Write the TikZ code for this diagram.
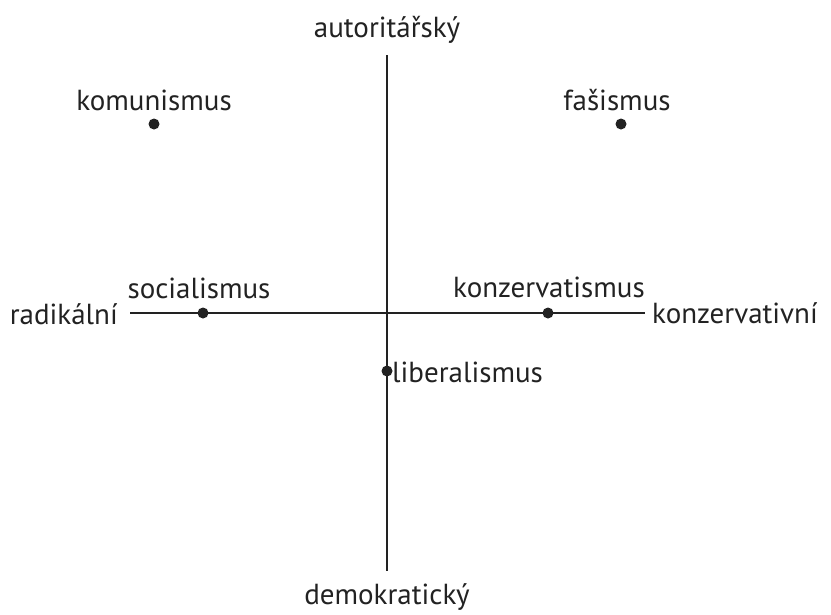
\documentclass[tikz,border=0pt]{standalone}
\usepackage{fontspec}
\setmainfont{PT Sans}
\definecolor{ink}{HTML}{222222}
\begin{document}
\begin{tikzpicture}[x=1pt,y=-1pt,
  lbl/.style={inner sep=0pt,text=ink,font=\fontsize{29}{34}\selectfont},
  axis/.style={draw=ink,line width=2.2pt},
  dot/.style={circle,fill=ink,inner sep=0pt,minimum size=11pt}]
\useasboundingbox (0,0) rectangle (831,614);
\coordinate (top) at (387,55);
\coordinate (bot) at (387,571);
\coordinate (left) at (130,313);
\coordinate (right) at (645,313);
\draw[axis] (top) -- (bot);
\draw[axis] (left) -- (right);
\node[lbl,anchor=base] (aut) at (387,37) {autoritářský};
\node[lbl,anchor=base] (dem) at (387,604) {demokratický};
\node[lbl,anchor=base east] (rad) at (118,324) {radikální};
\node[lbl,anchor=base west] (kon) at (652,323) {konzervativní};
\node[dot] (kom) at (154,124) {};
\node[lbl,anchor=base] (komL) at (154,110) {komunismus};
\node[dot] (fas) at (621,124) {};
\node[lbl,anchor=base] (fasL) at (617,110) {fašismus};
\node[dot] (soc) at (203,313) {};
\node[lbl,anchor=base] (socL) at (199,298) {socialismus};
\node[dot] (kzv) at (548,313) {};
\node[lbl,anchor=base] (kzvL) at (549,297) {konzervatismus};
\node[dot] (lib) at (387,371) {};
\node[lbl,anchor=base west] (libL) at (392,382) {liberalismus};
\end{tikzpicture}
\end{document}
